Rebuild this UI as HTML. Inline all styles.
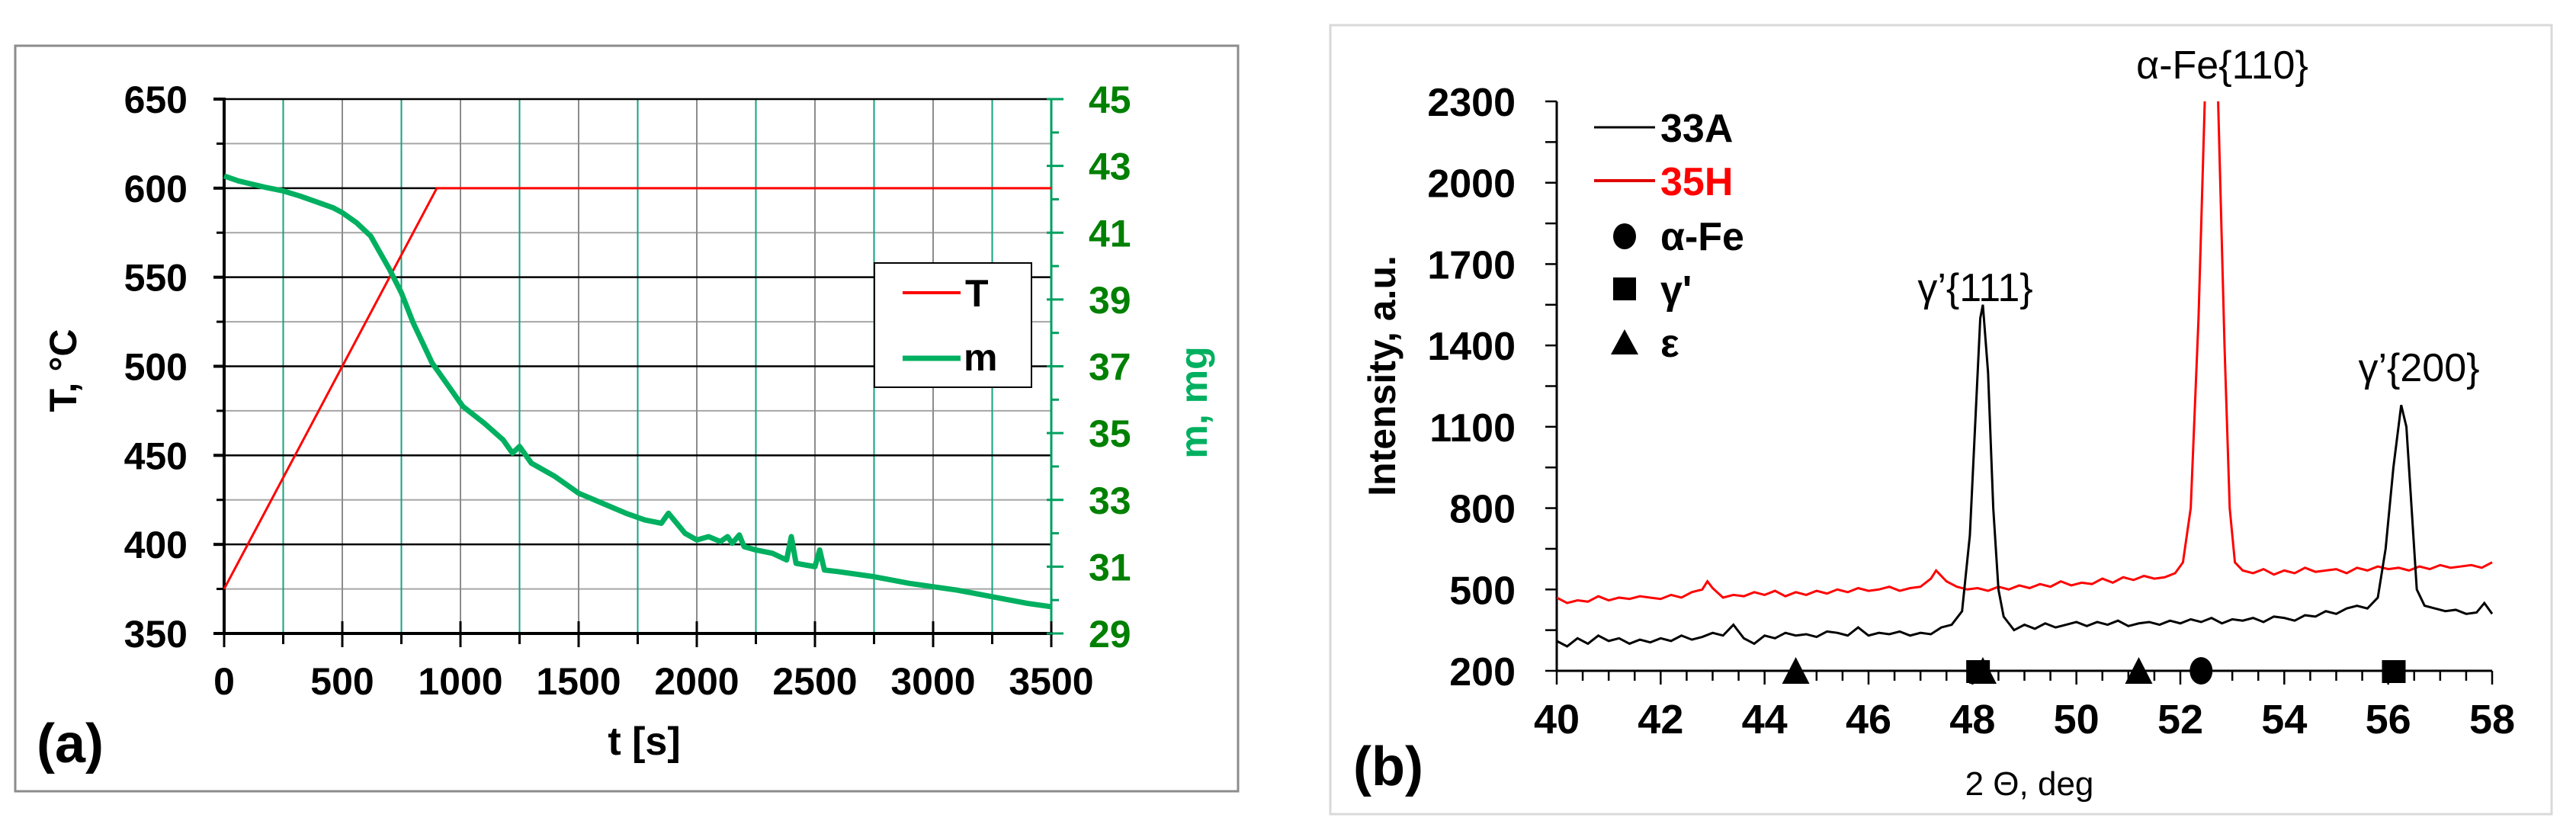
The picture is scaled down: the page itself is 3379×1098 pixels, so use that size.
<!DOCTYPE html>
<html><head><meta charset="utf-8">
<style>
html,body{margin:0;padding:0;background:#fff;}
svg{display:block;}
text{font-family:"Liberation Sans",Arial,sans-serif;}
</style></head>
<body>
<svg id="fig" width="3379" height="1098" viewBox="0 0 3379 1098" xmlns="http://www.w3.org/2000/svg">
<defs><clipPath id="clipB"><rect x="2042" y="133" width="1230" height="760"/></clipPath></defs>
<rect x="20" y="60" width="1604" height="978" fill="#fff" stroke="#8c8c8c" stroke-width="3"/>
<rect x="1745" y="33" width="1602" height="1035" fill="#fff" stroke="#d9d9d9" stroke-width="3"/>
<g id="ga"></g>
<g id="gb"></g>
</svg>
<script>
// ---- Panel (a) data ----
const aTempT = [0, 900, 3500];
const aTempV = [375, 600, 600];
const aMassT = [0,60,120,180,250,320,400,460,500,560,620,660,700,750,800,880,950,1010,1100,1180,1220,1250,1300,1400,1500,1600,1700,1780,1850,1880,1950,2000,2050,2100,2130,2150,2180,2200,2250,2320,2380,2400,2420,2500,2520,2540,2600,2750,2900,3000,3100,3250,3400,3500];
const aMassV = [42.7,42.55,42.45,42.35,42.25,42.1,41.9,41.75,41.6,41.3,40.9,40.4,39.9,39.2,38.3,37.1,36.4,35.8,35.3,34.8,34.4,34.6,34.1,33.7,33.2,32.9,32.6,32.4,32.3,32.6,32.0,31.8,31.9,31.75,31.9,31.7,31.95,31.6,31.5,31.4,31.2,31.9,31.1,31.0,31.5,30.9,30.85,30.7,30.5,30.4,30.3,30.1,29.9,29.8];
const aXTicks = [0,500,1000,1500,2000,2500,3000,3500];
const aYTicks = [350,400,450,500,550,600,650];
const aY2Ticks = [29,31,33,35,37,39,41,43,45];

// ---- Panel (b) data ----
const b33x = [40.0,40.2,40.4,40.6,40.8,41.0,41.2,41.4,41.6,41.8,42.0,42.2,42.4,42.6,42.8,43.0,43.2,43.4,43.6,43.8,44.0,44.2,44.4,44.6,44.8,45.0,45.2,45.4,45.6,45.8,46.0,46.2,46.4,46.6,46.8,47.0,47.2,47.4,47.6,47.8,47.95,48.05,48.15,48.2,48.3,48.4,48.5,48.6,48.8,49.0,49.2,49.4,49.6,49.8,50.0,50.2,50.4,50.6,50.8,51.0,51.2,51.4,51.6,51.8,52.0,52.2,52.4,52.6,52.8,53.0,53.2,53.4,53.6,53.8,54.0,54.2,54.4,54.6,54.8,55.0,55.2,55.4,55.6,55.8,55.95,56.1,56.25,56.35,56.45,56.55,56.7,56.9,57.1,57.3,57.5,57.7,57.85,58.0];
const b33y = [310,290,320,300,330,310,320,300,315,305,320,310,330,315,325,340,330,370,320,300,330,320,340,330,335,325,345,340,330,360,330,340,335,345,330,340,335,360,370,420,700,1100,1500,1550,1300,800,500,400,350,370,355,375,360,370,380,365,380,370,385,365,375,380,370,385,375,390,380,395,375,390,385,395,380,400,395,385,405,400,420,410,430,440,430,470,650,950,1180,1100,800,500,440,430,420,425,410,415,450,410];
const b35x = [40.0,40.2,40.4,40.6,40.8,41.0,41.2,41.4,41.6,41.8,42.0,42.2,42.4,42.6,42.8,42.9,43.0,43.2,43.4,43.6,43.8,44.0,44.2,44.4,44.6,44.8,45.0,45.2,45.4,45.6,45.8,46.0,46.2,46.4,46.6,46.8,47.0,47.2,47.3,47.5,47.7,47.9,48.1,48.3,48.5,48.7,48.9,49.1,49.3,49.5,49.7,49.9,50.1,50.3,50.5,50.7,50.9,51.1,51.3,51.5,51.7,51.9,52.05,52.2,52.35,52.5,52.6,52.7,52.85,52.95,53.05,53.2,53.4,53.6,53.8,54.0,54.2,54.4,54.6,54.8,55.0,55.2,55.4,55.6,55.8,56.0,56.2,56.4,56.6,56.8,57.0,57.2,57.4,57.6,57.8,58.0];
const b35y = [470,450,460,455,475,460,470,465,475,470,465,480,470,490,500,530,505,470,480,475,490,480,495,475,490,480,495,485,500,490,505,495,500,510,495,505,510,540,570,530,510,500,505,495,510,500,515,505,520,510,530,515,525,520,540,525,545,535,550,540,545,560,600,800,1500,2500,2700,2500,1400,800,600,570,560,575,555,570,560,580,565,570,575,560,580,570,585,575,580,570,585,575,590,580,585,590,580,600];
const bXTicks = [40,42,44,46,48,50,52,54,56,58];
const bYTicks = [200,500,800,1100,1400,1700,2000,2300];
const bMarkAlpha = [52.4];
const bMarkGamma = [48.1,56.1];
const bMarkEps = [44.6,48.2,51.2];

const NS="http://www.w3.org/2000/svg";
function mk(parent,tag,attrs,txt){const e=document.createElementNS(NS,tag);for(const k in attrs)e.setAttribute(k,attrs[k]);if(txt!==undefined)e.textContent=txt;parent.appendChild(e);return e;}

// ===== Panel a =====
const ga=document.getElementById('ga');
const ax=t=>294+(t/3500)*(1379-294);
const ay=v=>130+(650-v)/300*(831-130);
const ay2=v=>130+(45-v)/16*(831-130);
for(let v=375;v<650;v+=50){const l=mk(ga,'line',{x1:294,x2:1379,y1:ay(v),y2:ay(v),stroke:'#a6a6a6','stroke-width':2});

}
for(let t=250;t<3500;t+=250){const isG=(t%500)!==0;const l=mk(ga,'line',{x1:ax(t),x2:ax(t),y1:130,y2:831,stroke:isG?'#14a37f':'#8c8c8c','stroke-width':2});

}
aYTicks.forEach(v=>{const l=mk(ga,'line',{x1:294,x2:1379,y1:ay(v),y2:ay(v),stroke:'#000','stroke-width':2.5});


const tk=mk(ga,'line',{x1:280,x2:294,y1:ay(v),y2:ay(v),stroke:'#000','stroke-width':4});


const tx=mk(ga,'text',{x:246,y:ay(v)+18,'text-anchor':'end','font-size':50,'font-weight':'bold',fill:'#000'},String(v));

});
for(let v=375;v<650;v+=50){mk(ga,'line',{x1:284,x2:294,y1:ay(v),y2:ay(v),stroke:'#000','stroke-width':3});}
mk(ga,'line',{x1:294,x2:294,y1:128,y2:833,stroke:'#000','stroke-width':4,});
mk(ga,'line',{x1:292,x2:1381,y1:831,y2:831,stroke:'#000','stroke-width':4,});
mk(ga,'line',{x1:1379,x2:1379,y1:130,y2:831,stroke:'#00a060','stroke-width':3,});
for(let t=0;t<=3500;t+=250){const major=t%500===0;mk(ga,'line',{x1:ax(t),x2:ax(t),y1:831-(major?16:0),y2:831+(major?18:14),stroke:'#000','stroke-width':3});}
aXTicks.forEach(t=>{const tx=mk(ga,'text',{x:ax(t),y:911,'text-anchor':'middle','font-size':50,'font-weight':'bold',fill:'#000'},String(t));

});
for(let v=29;v<=45;v+=1){const major=(v%2)===1;mk(ga,'line',{x1:1379-(major?6:0),x2:1379+(major?16:10),y1:ay2(v),y2:ay2(v),stroke:'#00a060','stroke-width':3});}
aY2Ticks.forEach(v=>{const tx=mk(ga,'text',{x:1428,y:ay2(v)+18,'text-anchor':'start','font-size':50,'font-weight':'bold',fill:'#008000'},String(v));

});
const tp=mk(ga,'polyline',{points:aTempT.map((t,i)=>ax(t)+','+ay(aTempV[i])).join(' '),fill:'none',stroke:'#ff0000','stroke-width':3});


const mp=mk(ga,'polyline',{points:aMassT.map((t,i)=>ax(t)+','+ay2(aMassV[i])).join(' '),fill:'none',stroke:'#00b060','stroke-width':7,'stroke-linejoin':'round'});


mk(ga,'rect',{x:1147,y:345,width:206,height:163,fill:'#fff',stroke:'#000','stroke-width':2,});
mk(ga,'line',{x1:1184,x2:1260,y1:384,y2:384,stroke:'#ff0000','stroke-width':4,});
mk(ga,'text',{x:1266,y:402,'font-size':50,'font-weight':'bold',},'T');
mk(ga,'line',{x1:1184,x2:1260,y1:470,y2:470,stroke:'#00b060','stroke-width':7,});
mk(ga,'text',{x:1264,y:486,'font-size':50,'font-weight':'bold',},'m');
mk(ga,'text',{x:845,y:990,'text-anchor':'middle','font-size':52,'font-weight':'bold',},'t [s]');
mk(ga,'text',{x:0,y:0,transform:'translate(100,486) rotate(-90)','text-anchor':'middle','font-size':50,'font-weight':'bold',},'T, °C');
mk(ga,'text',{x:0,y:0,transform:'translate(1583,528) rotate(-90)','text-anchor':'middle','font-size':50,'font-weight':'bold',fill:'#00b060',},'m, mg');
mk(ga,'text',{x:48,y:1000,'font-size':72,'font-weight':'bold',},'(a)');

// ===== Panel b =====
const gb=document.getElementById('gb');
const bx=v=>2042+(v-40)/18*(3269-2042);
const by=v=>880-(v-200)/2100*(880-133);
mk(gb,'line',{x1:2042,x2:2042,y1:133,y2:880,stroke:'#000','stroke-width':3,});
mk(gb,'line',{x1:2042,x2:3269,y1:880,y2:880,stroke:'#000','stroke-width':3,});
for(let v=200;v<=2300;v+=150){mk(gb,'line',{x1:2027,x2:2042,y1:by(v),y2:by(v),stroke:'#000','stroke-width':2.5});}
bYTicks.forEach(v=>{const tx=mk(gb,'text',{x:1988,y:by(v)+19,'text-anchor':'end','font-size':52,'font-weight':'bold'},String(v));

});
for(let v=40;v<=58.01;v+=0.5){const major=Math.abs(v-Math.round(v/2)*2)<0.01;mk(gb,'line',{x1:bx(v),x2:bx(v),y1:880,y2:880+(major?18:13),stroke:'#000','stroke-width':2.5});}
bXTicks.forEach(v=>{const tx=mk(gb,'text',{x:bx(v),y:962,'text-anchor':'middle','font-size':54,'font-weight':'bold'},String(v));

});
const s35=mk(gb,'polyline',{points:b35x.map((x,i)=>bx(x)+','+by(b35y[i])).join(' '),fill:'none',stroke:'#ff0000','stroke-width':3,'clip-path':'url(#clipB)'});


const s33=mk(gb,'polyline',{points:b33x.map((x,i)=>bx(x)+','+by(b33y[i])).join(' '),fill:'none',stroke:'#000','stroke-width':3,'clip-path':'url(#clipB)'});


bMarkAlpha.forEach(v=>{const c=mk(gb,'ellipse',{cx:bx(v),cy:880,rx:15,ry:18,fill:'#000'});

});
bMarkGamma.forEach(v=>{const r=mk(gb,'rect',{x:bx(v)-15,y:866,width:31,height:30,fill:'#000'});

});
bMarkEps.forEach(v=>{const p=mk(gb,'polygon',{points:`${bx(v)-18},897 ${bx(v)+18},897 ${bx(v)},862`,fill:'#000'});

});
mk(gb,'line',{x1:2091,x2:2171,y1:167,y2:167,stroke:'#000','stroke-width':3,});
mk(gb,'text',{x:2178,y:186,'font-size':52,'font-weight':'bold',},'33A');
mk(gb,'line',{x1:2091,x2:2171,y1:237,y2:237,stroke:'#e00000','stroke-width':4,});
mk(gb,'text',{x:2178,y:256,'font-size':52,'font-weight':'bold',fill:'#ff0000',},'35H');
mk(gb,'ellipse',{cx:2131,cy:310,rx:15,ry:17,fill:'#000',});
mk(gb,'text',{x:2178,y:328,'font-size':52,'font-weight':'bold',},'α-Fe');
mk(gb,'rect',{x:2116,y:364,width:30,height:30,fill:'#000',});
mk(gb,'text',{x:2178,y:398,'font-size':52,'font-weight':'bold',},"γ'");
mk(gb,'polygon',{points:'2113,465 2149,465 2131,432',fill:'#000',});
mk(gb,'text',{x:2178,y:468,'font-size':52,'font-weight':'bold',},'ε');
mk(gb,'text',{x:2915,y:103,'text-anchor':'middle','font-size':52,},'α-Fe{110}');
mk(gb,'text',{x:2591,y:395,'text-anchor':'middle','font-size':52,},'γ’{111}');
mk(gb,'text',{x:3173,y:500,'text-anchor':'middle','font-size':52,},'γ’{200}');
mk(gb,'text',{x:0,y:0,transform:'translate(1830,493) rotate(-90)','text-anchor':'middle','font-size':50,'font-weight':'bold',},'Intensity, a.u.');
mk(gb,'text',{x:2662,y:1043,'text-anchor':'middle','font-size':44,},'2 Θ, deg');
mk(gb,'text',{x:1775,y:1030,'font-size':72,'font-weight':'bold',},'(b)');
</script>
</body></html>
